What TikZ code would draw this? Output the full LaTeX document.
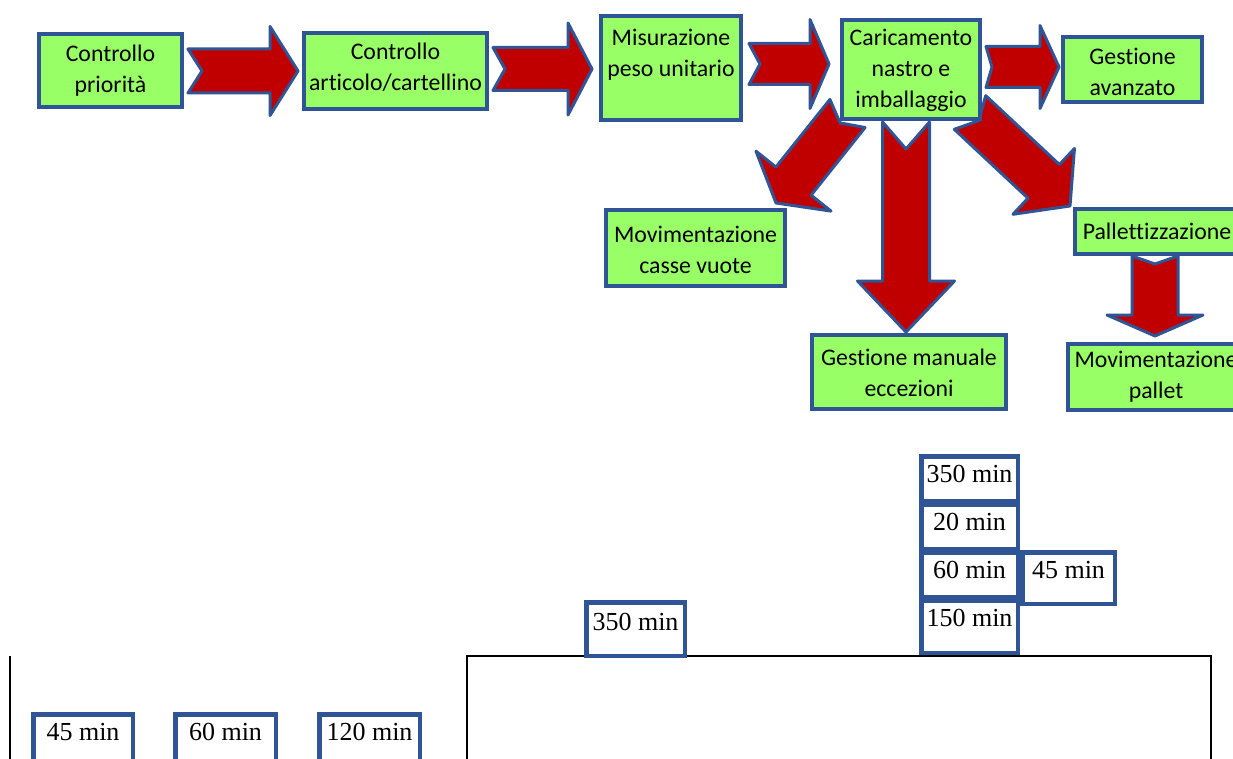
\documentclass[tikz,border=0pt]{standalone}
\usepackage{fontspec}
\setmainfont{Liberation Serif}
\newfontfamily\calib[Ligatures=NoCommon]{Carlito}
\usetikzlibrary{calc}
\definecolor{bblue}{RGB}{47,85,151}
\definecolor{gfill}{RGB}{153,255,102}
\definecolor{rfill}{RGB}{192,0,0}
\newcommand{\blockarrow}[7]{%
  \coordinate (#1h) at ($(#3)!#6!(#2)$);
  \coordinate (#1n) at ($(#2)!#7!(#3)$);
  \draw[barrow] ($(#2)!#4!90:(#3)$) -- (#1n) -- ($(#2)!#4!-90:(#3)$)
     -- ($(#1h)!#4!-90:(#3)$) -- ($(#1h)!#5!-90:(#3)$) -- (#3)
     -- ($(#1h)!#5!90:(#3)$) -- ($(#1h)!#4!90:(#3)$) -- cycle;
}
\begin{document}
\begin{tikzpicture}[x=1pt,y=-1pt,
  barrow/.style={draw=bblue,fill=rfill,line width=3pt,line join=round},
  gbox/.style={draw=bblue,fill=gfill,line width=4pt,inner sep=0pt},
  gtext/.style={font=\calib\fontsize{23.8}{31}\selectfont,align=center,inner sep=0pt},
  tbox/.style={draw=bblue,fill=white,line width=4.5pt,inner sep=0pt},
  ttext/.style={font=\fontsize{26}{30}\selectfont,inner sep=0pt,anchor=base},
  thinline/.style={draw=black,line width=1.5pt}]
\useasboundingbox (0,0) rectangle (1233,759);
\clip (0,0) rectangle (1233,759);

% block arrows (drawn below boxes)
\coordinate (a1s) at (188,71);  \coordinate (a1e) at (298,71);
\coordinate (a2s) at (493,69);  \coordinate (a2e) at (592,69);
\coordinate (a3s) at (749,64);  \coordinate (a3e) at (829,64);
\coordinate (a4s) at (986,67);  \coordinate (a4e) at (1059,67);
\coordinate (d1s) at (906,122); \coordinate (d1e) at (906,332);
\coordinate (d2s) at (1155,256); \coordinate (d2e) at (1155,336);
\coordinate (dls) at (847.5,113.5); \coordinate (dle) at (776,203);
\coordinate (drs) at (970,112.5); \coordinate (dre) at (1070,206);
\blockarrow{A1}{a1s}{a1e}{22pt}{44.5pt}{28pt}{14pt}
\blockarrow{A2}{a2s}{a2e}{21.5pt}{46pt}{24pt}{12pt}
\blockarrow{A3}{a3s}{a3e}{20.5pt}{44.5pt}{19pt}{11pt}
\blockarrow{A4}{a4s}{a4e}{20.5pt}{41.5pt}{19pt}{6pt}
\blockarrow{D1}{d1s}{d1e}{23.5pt}{48.5pt}{51pt}{27pt}
\blockarrow{D2}{d2s}{d2e}{23pt}{48pt}{21pt}{8pt}
\blockarrow{DL}{dls}{dle}{22.5pt}{48pt}{28pt}{12pt}
\blockarrow{DR}{drs}{dre}{23pt}{45pt}{36pt}{12pt}

% green process boxes
\node[gbox,minimum width=143pt,minimum height=73pt] (b1) at (110.5,70.5) {};
\node[gbox,minimum width=183pt,minimum height=76pt] (b2) at (395.5,71) {};
\node[gbox,minimum width=140pt,minimum height=104pt] (b3) at (671,68) {};
\node[gbox,minimum width=138pt,minimum height=99pt] (b4) at (911,69.5) {};
\node[gbox,minimum width=139pt,minimum height=65pt] (b5) at (1132.5,69.5) {};
\node[gbox,minimum width=179pt,minimum height=76pt] (b6) at (695.5,248) {};
\node[gbox,minimum width=162pt,minimum height=45pt] (b7) at (1156,231.5) {};
\node[gbox,minimum width=194pt,minimum height=74pt] (b8) at (909,372) {};
\node[gbox,minimum width=176pt,minimum height=66pt] (b9) at (1156,377) {};

\node[gtext] (b1t) at (110.5,71) {Controllo\\priorità};
\node[gtext] (b2t) at (395.5,67) {Controllo\\articolo/cartellino};
\node[gtext,anchor=north] (b3t) at ([yshift=-15pt]b3.north) {Misurazione\\peso unitario};
\node[gtext] (b4t) at (911,70) {Caricamento\\nastro e\\imballaggio};
\node[gtext] (b5t) at (1132.5,72) {Gestione\\avanzato};
\node[gtext] (b6t) at (695.5,250) {Movimentazione\\casse vuote};
\node[gtext] (b7t) at (1157,231) {Pallettizzazione};
\node[gtext] (b8t) at (909,373) {Gestione manuale\\eccezioni};
\node[gtext] (b9t) at (1156,377) {Movimentazione\\pallet};

% bottom frame lines
\draw[thinline] (10,656) -- (10,800);
\draw[thinline] (467,800) -- (467,656) -- (1211,656) -- (1211,800);

% time boxes
\node[tbox,minimum width=96.5pt,minimum height=44.5pt] (t1) at (969.5,478.5) {};
\node[tbox,minimum width=96.5pt,minimum height=44.5pt] (t2) at (969.5,526.5) {};
\node[tbox,minimum width=96.5pt,minimum height=44.5pt] (t3) at (969.5,574.5) {};
\node[tbox,minimum width=96.5pt,minimum height=52.5pt] (t4) at (969.5,626.5) {};
\node[tbox,minimum width=92.5pt,minimum height=51.5pt] (t5) at (1068.5,578) {};
\node[tbox,minimum width=98.5pt,minimum height=53.5pt] (t6) at (635.5,629) {};
\node[tbox,minimum width=99.5pt,minimum height=73.5pt] (t7) at (83,751) {};
\node[tbox,minimum width=100.5pt,minimum height=73.5pt] (t8) at (225.5,751) {};
\node[tbox,minimum width=100.5pt,minimum height=73.5pt] (t9) at (369.5,751) {};

\node[ttext] (t1t) at (969.5,482) {350 min};
\node[ttext] (t2t) at (969.5,530) {20 min};
\node[ttext] (t3t) at (969.5,578) {60 min};
\node[ttext] (t4t) at (969.5,626) {150 min};
\node[ttext] (t5t) at (1068.5,578) {45 min};
\node[ttext] (t6t) at (635.5,630) {350 min};
\node[ttext] (t7t) at (83,740) {45 min};
\node[ttext] (t8t) at (225.5,740) {60 min};
\node[ttext] (t9t) at (369.5,740) {120 min};
\end{tikzpicture}
\end{document}
